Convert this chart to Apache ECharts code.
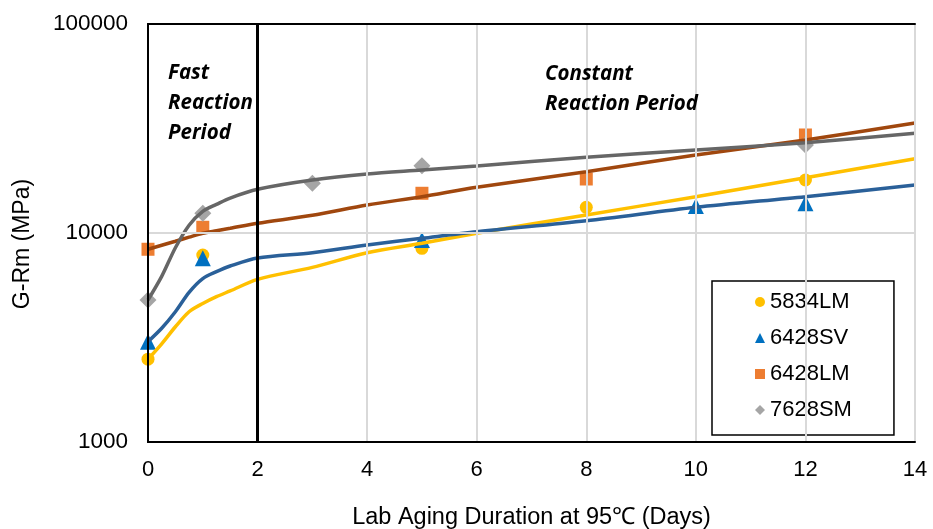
<!DOCTYPE html>
<html>
<head>
<meta charset="utf-8">
<script src="https://cdn.jsdelivr.net/npm/echarts@6/dist/echarts.min.js"></script>
<style>
html,body{margin:0;padding:0;background:#fff;}
#chart{width:933px;height:529px;}
</style>
</head>
<body>
<div id="chart"></div>
<script>
// ---- Data ----
const seriesNames = ['5834LM', '6428SV', '6428LM', '7628SM'];

const x5834LM = [0, 1, 5, 8, 12];
const y5834LM = [2490, 7850, 8450, 13270, 17930];

const x6428SV = [0, 1, 5, 10, 12];
const y6428SV = [3020, 7570, 9260, 13470, 13870];

const x6428LM = [0, 1, 5, 8, 12];
const y6428LM = [8360, 10650, 15490, 18130, 29440];

const x7628SM = [0, 1, 3, 5, 12];
const y7628SM = [4780, 12430, 17290, 20990, 26360];

// fitted curves
const fitX = [0, 0.25, 0.5, 0.75, 1, 1.25, 1.5, 2, 3, 4, 5, 6, 8, 10, 12, 14];
const fit5834LM = [2490, 2950, 3560, 4200, 4600, 4960, 5280, 6000, 6850, 8050, 8930, 9970, 12200, 14920, 18390, 22680];
const fit6428SV = [3020, 3500, 4200, 5200, 6050, 6530, 6950, 7600, 8050, 8760, 9430, 10140, 11450, 13270, 14920, 16970];
const fit6428LM = [8360, 8740, 9130, 9550, 9970, 10250, 10530, 11130, 12150, 13610, 14920, 16550, 19650, 23620, 27860, 33600];
const fit7628SM = [4780, 6200, 8500, 10900, 12700, 13700, 14700, 16190, 17930, 19160, 20010, 20920, 23030, 24960, 27050, 29990];

const xTicks = [0, 2, 4, 6, 8, 10, 12, 14];
const yTicks = [1000, 10000, 100000];
const phaseBoundary = 2;

const xTitle = 'Lab Aging Duration at 95℃ (Days)';
const yTitle = 'G-Rm (MPa)';
const annFast = 'Fast\nReaction\nPeriod';
const annConst = 'Constant\nReaction Period';

// ---- Build ----
const pairs = (xs, ys) => xs.map((x, i) => [x, ys[i]]);
const FONT = 'Liberation Sans, Arial, sans-serif';

const markerColors = ['#FFC000', '#0070C0', '#ED7D31', '#A5A5A5'];
const lineColors = ['#FFC000', '#2A6099', '#A0470E', '#666666'];
const symbols = ['circle', 'triangle', 'rect', 'diamond'];
const symbolSizes = [13, 16, 13, 17];
const pts = [pairs(x5834LM, y5834LM), pairs(x6428SV, y6428SV), pairs(x6428LM, y6428LM), pairs(x7628SM, y7628SM)];
const fits = [fit5834LM, fit6428SV, fit6428LM, fit7628SM];

const series = [];
seriesNames.forEach((n, i) => {
  series.push({
    name: n, type: 'scatter', data: pts[i], symbol: symbols[i], symbolSize: symbolSizes[i],
    itemStyle: { color: markerColors[i], opacity: 1 }, z: 2
  });
});
seriesNames.forEach((n, i) => {
  series.push({
    name: n + ' fit', type: 'line', data: pairs(fitX, fits[i]), smooth: 0.3,
    showSymbol: false, symbol: 'none', lineStyle: { color: lineColors[i], width: 3.5 }, z: 3, silent: true
  });
});
// boundary line between periods
series.push({
  name: 'boundary', type: 'line', data: [], silent: true, z: 4,
  markLine: {
    symbol: 'none', silent: true, label: { show: false },
    lineStyle: { color: '#000', width: 3, type: 'solid' },
    data: [{ xAxis: phaseBoundary }]
  }
});

const frameAxis = { show: true, lineStyle: { color: '#000', width: 2 } };

const chart = echarts.init(document.getElementById('chart'), null, { renderer: 'canvas' });
chart.setOption({
  animation: false,
  backgroundColor: '#fff',
  textStyle: { fontFamily: FONT },
  grid: { left: 148, right: 18, top: 24, bottom: 87, containLabel: false, outerBoundsMode: 'none' },
  xAxis: [{
    type: 'value', min: xTicks[0], max: xTicks[xTicks.length - 1], interval: 2,
    name: xTitle, nameLocation: 'middle', nameGap: 64,
    nameTextStyle: { fontSize: 23.5, color: '#000', fontFamily: FONT },
    axisLine: frameAxis,
    axisTick: { show: false },
    axisLabel: { fontSize: 22, color: '#000', margin: 17, fontFamily: FONT },
    splitLine: { show: true, lineStyle: { color: '#D9D9D9', width: 2 } },
    z: 5
  }, {
    type: 'value', position: 'top', min: xTicks[0], max: xTicks[xTicks.length - 1], interval: 2,
    axisLine: frameAxis, axisTick: { show: false }, axisLabel: { show: false }, splitLine: { show: false }, z: 5
  }],
  yAxis: [{
    type: 'log', logBase: 10, min: yTicks[0], max: yTicks[yTicks.length - 1],
    name: yTitle, nameLocation: 'middle', nameGap: 114,
    nameTextStyle: { fontSize: 23, color: '#000', fontFamily: FONT, padding: [0, 22, 0, 0] },
    axisLine: frameAxis,
    axisTick: { show: false },
    axisLabel: { fontSize: 22.5, color: '#000', margin: 20, fontFamily: FONT, formatter: v => String(Math.round(v)) },
    splitLine: { show: true, lineStyle: { color: '#D9D9D9', width: 2 } },
    minorSplitLine: { show: false },
    z: 5
  }, {
    type: 'log', logBase: 10, position: 'right', min: yTicks[0], max: yTicks[yTicks.length - 1],
    axisLine: frameAxis, axisTick: { show: false }, axisLabel: { show: false }, splitLine: { show: false }, z: 5
  }],
  legend: {
    data: seriesNames, orient: 'vertical', left: 712, top: 281,
    padding: [10, 42, 14, 43], itemGap: 14, itemWidth: 10, itemHeight: 10,
    borderColor: '#000', borderWidth: 1.5, backgroundColor: '#fff',
    textStyle: { fontSize: 22, color: '#000', fontFamily: FONT }
  },
  graphic: [
    { type: 'text', left: 168, top: 58, z: 10,
      style: { text: annFast, font: 'italic bold 20.5px "Open Sans", sans-serif', fill: '#000', lineHeight: 30 } },
    { type: 'text', left: 545, top: 59, z: 10,
      style: { text: annConst, font: 'italic bold 20.5px "Open Sans", sans-serif', fill: '#000', lineHeight: 30 } }
  ],
  series: series
});
</script>
</body>
</html>
